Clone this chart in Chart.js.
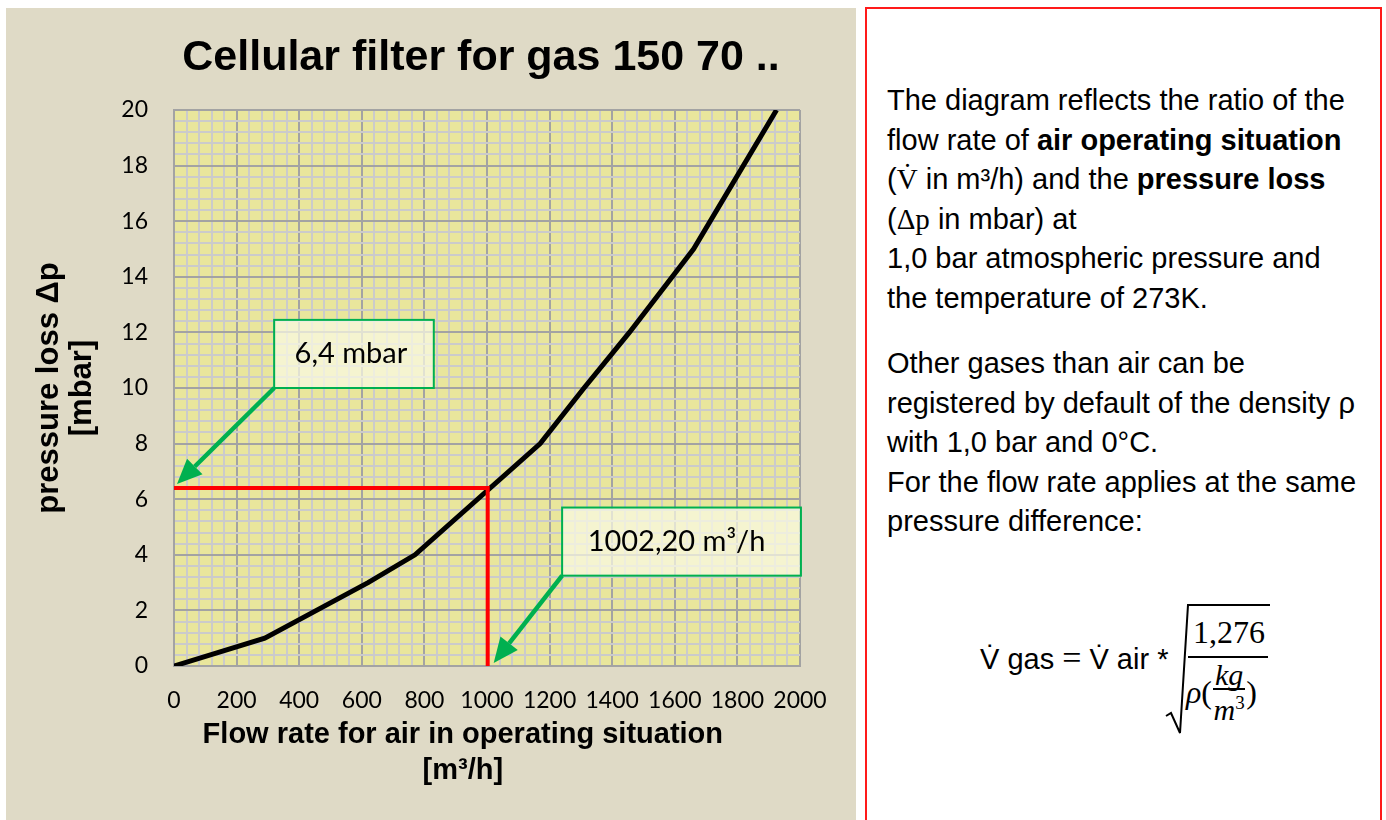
<!DOCTYPE html>
<html>
<head>
<meta charset="utf-8">
<title>Cellular filter for gas 150 70</title>
<script src="https://cdn.jsdelivr.net/npm/chart.js@4.4.1/dist/chart.umd.min.js"></script>
<style>
  html, body { margin: 0; padding: 0; background: #fff; }
  body { width: 1386px; height: 820px; position: relative; overflow: hidden; font-family: "Liberation Sans", Arial, sans-serif; color: #000; }
  #chartBox { position: absolute; left: 6px; top: 8px; width: 850px; height: 812px; background: #DFDAC6; }
  #infoBox { position: absolute; left: 865px; top: 7px; width: 517px; height: 840px; border: 2px solid #FF1A1A; box-sizing: border-box; }
  .para { position: absolute; left: 20px; font-size: 29px; line-height: 39.5px; white-space: nowrap; }
  .serif { font-family: "Liberation Serif", "DejaVu Serif", serif; }
  .f { position: absolute; white-space: nowrap; }
  .lhs { left: 980px; top: 640px; font-size: 29px; line-height: 36px; }
  .lhs .serif { font-size: 34px; }
  .num { left: 1193px; top: 614px; font-size: 32px; line-height: 36px; }
  .bar { position: absolute; background: #000; height: 2px; }
  .den { left: 1186px; top: 662px; font-size: 32px; display: flex; align-items: center; }
  .frac { display: inline-flex; flex-direction: column; align-items: center; font-style: italic; font-size: 30px; line-height: 26px; margin: 0 1px; }
  .frac span:first-child { border-bottom: 2px solid #000; padding: 0 2px; }
</style>
</head>
<body>
<div id="chartBox"><canvas id="filterChart" width="850" height="812"></canvas></div>

<div id="infoBox">
  <div class="para" style="top:72px">
    The diagram reflects the ratio of the<br>
    flow rate of <b>air operating situation</b><br>
    (<span class="serif">V̇</span> in m³/h) and the <b>pressure loss</b><br>
    (<span class="serif">Δp</span> in mbar) at<br>
    1,0 bar atmospheric pressure and<br>
    the temperature of 273K.
  </div>
  <div class="para" style="top:335px">
    Other gases than air can be<br>
    registered by default of the density ρ<br>
    with 1,0 bar and 0°C.<br>
    For the flow rate applies at the same<br>
    pressure difference:
  </div>
</div>

<div id="formula">
  <span class="f lhs">V̇ gas <span class="serif">=</span> V̇ air *</span>
  <svg class="f" style="left:1160px;top:600px" width="115" height="140">
    <path d="M6 116 L11 113 L20 133 L28 5 L110 5" fill="none" stroke="#000" stroke-width="2"/>
  </svg>
  <span class="f num serif">1,276</span>
  <div class="bar" style="left:1188px;top:656px;width:80px"></div>
  <span class="f den serif"><i>ρ</i>(<span class="frac"><span>kg</span><span>m<sup style="font-size:19px;font-style:normal">3</sup></span></span>)</span>
</div>

<script>
// curve: flow rate [m³/h] against pressure loss [mbar]
const flowRate = [0, 290, 620, 770, 1170, 1310, 1455, 1660, 1925];
const pressureLoss = [0, 1, 3, 4, 8, 10, 12, 15, 20];

// the reading marked in red
const readFlow = 1002.2;
const readPressure = 6.4;

const xMajorStep = 200;
const yMajorStep = 2;

function isMajor(value, step) {
    return Math.abs(value / step - Math.round(value / step)) < 1e-6;
}

function toComma(value, digits) {
    return value.toFixed(digits).replace('.', ',');
}

const plotBackground = {
    id: 'plotBackground',
    beforeDraw(chart) {
        const { ctx, chartArea: a } = chart;
        ctx.save();
        ctx.fillStyle = '#E9E69C';
        ctx.fillRect(a.left, a.top, a.right - a.left, a.bottom - a.top);
        ctx.restore();
    }
};

function drawArrow(ctx, x1, y1, x2, y2) {
    const ang = Math.atan2(y2 - y1, x2 - x1);
    const headLen = 25, headHalf = 11;
    const bx = x2 - headLen * Math.cos(ang);
    const by = y2 - headLen * Math.sin(ang);
    ctx.beginPath();
    ctx.moveTo(x1, y1);
    ctx.lineTo(bx, by);
    ctx.stroke();
    ctx.beginPath();
    ctx.moveTo(x2, y2);
    ctx.lineTo(bx + headHalf * Math.sin(ang), by - headHalf * Math.cos(ang));
    ctx.lineTo(bx - headHalf * Math.sin(ang), by + headHalf * Math.cos(ang));
    ctx.closePath();
    ctx.fill();
}

// green call-outs; boxes are placed in axis units, arrows point at the reading
const callouts = {
    id: 'callouts',
    afterDatasetsDraw(chart, args, opts) {
        const { ctx } = chart;
        const xs = chart.scales.x, ys = chart.scales.y;
        ctx.save();
        opts.items.forEach(item => {
            const left = xs.getPixelForValue(item.box[0]);
            const right = xs.getPixelForValue(item.box[1]);
            const top = ys.getPixelForValue(item.box[3]);
            const bottom = ys.getPixelForValue(item.box[2]);
            const tipX = xs.getPixelForValue(item.tip[0]) + item.nudge[0];
            const tipY = ys.getPixelForValue(item.tip[1]) + item.nudge[1];

            ctx.strokeStyle = '#00B050';
            ctx.fillStyle = '#00B050';
            ctx.lineWidth = 4.5;
            drawArrow(ctx, left, bottom, tipX, tipY);

            ctx.fillStyle = 'rgba(250, 249, 228, 0.72)';
            ctx.fillRect(left, top, right - left, bottom - top);
            ctx.lineWidth = 2;
            ctx.strokeRect(left, top, right - left, bottom - top);

            ctx.fillStyle = '#000';
            ctx.font = '29px Lato';
            ctx.textAlign = 'center';
            ctx.textBaseline = 'middle';
            ctx.fillText(item.text, (left + right) / 2 + item.shift, (top + bottom) / 2);
        });
        ctx.restore();
    }
};

const tickFont = { family: 'Lato', size: 23 };
const titleFamily = "'Liberation Sans', Arial, sans-serif";

const ctx = document.getElementById('filterChart').getContext('2d');
new Chart(ctx, {
    type: 'line',
    data: {
        datasets: [
            {
                label: 'reading',
                data: [
                    { x: 0, y: readPressure },
                    { x: readFlow, y: readPressure },
                    { x: readFlow, y: 0 }
                ],
                borderColor: '#FF0000',
                borderWidth: 4,
                pointRadius: 0,
                order: 0
            },
            {
                label: 'pressure loss',
                data: flowRate.map((f, i) => ({ x: f, y: pressureLoss[i] })),
                borderColor: '#000000',
                borderWidth: 5,
                pointRadius: 0,
                tension: 0,
                order: 1
            }
        ]
    },
    options: {
        responsive: false,
        animation: false,
        devicePixelRatio: 1,
        layout: { padding: { left: 0, right: 56, top: 0, bottom: 0 } },
        scales: {
            x: {
                type: 'linear', min: 0, max: 2000,
                ticks: {
                    stepSize: 40, autoSkip: false, maxRotation: 0, padding: 21,
                    color: '#000', font: tickFont,
                    callback: v => isMajor(v, xMajorStep) ? Math.round(v) : ''
                },
                grid: {
                    color: c => isMajor(c.tick.value, xMajorStep) ? '#A3A3A3' : '#CBCBCB',
                    lineWidth: 2, drawTicks: false
                },
                border: { color: '#A3A3A3', width: 2 },
                title: {
                    display: true,
                    // trailing spaces pull the centred title left, as in the original
                    text: ['Flow rate for air in operating situation      ', '[m³/h]      '],
                    color: '#000',
                    font: { family: titleFamily, size: 29, weight: 'bold', lineHeight: 1.24 },
                    padding: { top: 0, bottom: 31 }
                },
                afterFit: s => { s.height = 154; }
            },
            y: {
                type: 'linear', min: 0, max: 20,
                ticks: {
                    stepSize: 0.4, autoSkip: false, padding: 26,
                    color: '#000', font: tickFont,
                    callback: v => isMajor(v, yMajorStep) ? Math.round(v) : ''
                },
                grid: {
                    color: c => isMajor(c.tick.value, yMajorStep) ? '#A3A3A3' : '#CBCBCB',
                    lineWidth: 2, drawTicks: false
                },
                border: { color: '#A3A3A3', width: 2 },
                title: {
                    display: true,
                    text: ['pressure loss Δp', '[mbar]'],
                    color: '#000',
                    font: { family: titleFamily, size: 31, weight: 'bold', lineHeight: 1.06 },
                    padding: { top: 27.5, bottom: 0 }
                },
                afterFit: s => { s.width = 168; }
            }
        },
        plugins: {
            legend: { display: false },
            tooltip: { enabled: false },
            title: {
                display: true,
                text: 'Cellular filter for gas 150 70 .. ',
                fullSize: false,
                color: '#000',
                font: { family: titleFamily, size: 43, weight: 'bold', lineHeight: 1.2 },
                padding: { top: 24.2, bottom: 26.2 }
            },
            callouts: {
                items: [
                    { text: toComma(readPressure, 1) + ' mbar', box: [320, 830, 10.0, 12.45], tip: [0, readPressure], nudge: [3, -4], shift: -3 },
                    { text: toComma(readFlow, 2) + ' m³/h', box: [1240, 2003, 3.25, 5.7], tip: [readFlow, 0], nudge: [6, -3], shift: -5 }
                ]
            }
        }
    },
    plugins: [plotBackground, callouts]
});
</script>
</body>
</html>
